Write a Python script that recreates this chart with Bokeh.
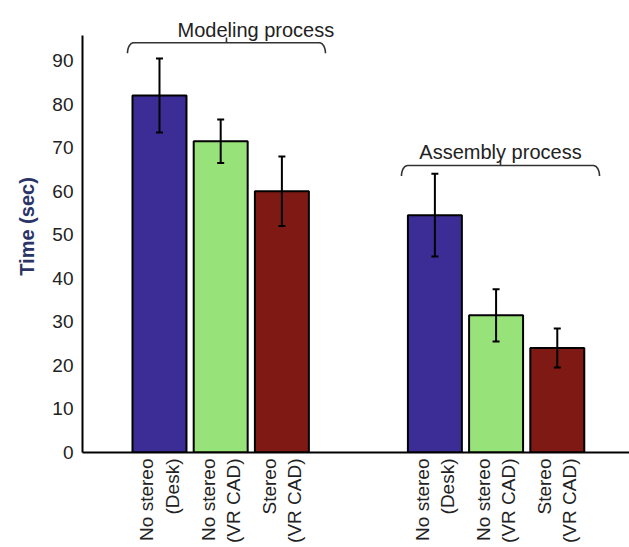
import numpy as np
from math import pi
from bokeh.plotting import figure
from bokeh.models import Range1d, FixedTicker, Whisker, ColumnDataSource, TeeHead
from bokeh.core.properties import value
from bokeh.embed import file_html
from bokeh.resources import INLINE

# Mean task time (sec) and error per condition, for the two processes
conditions = ["No stereo\n(Desk)", "No stereo\n(VR CAD)", "Stereo\n(VR CAD)"]
modeling_time = [82.0, 71.5, 60.0]
modeling_err = [8.5, 5.0, 8.0]
assembly_time = [54.5, 31.5, 24.0]
assembly_err = [9.5, 6.0, 4.5]
group_names = ["Modeling process", "Assembly process"]
bar_colors = ["#3b2d95", "#98e27a", "#7e1a13"]
y_ticks = [0, 10, 20, 30, 40, 50, 60, 70, 80, 90]

FONT = "Liberation Sans"

# bar positions: three bars per group, second group set further right
pos_modeling = [0.0, 1.0, 2.0]
pos_assembly = [4.5, 5.5, 6.5]
positions = pos_modeling + pos_assembly

times = modeling_time + assembly_time
errs = modeling_err + assembly_err
src = ColumnDataSource(dict(
    x=positions,
    top=times,
    upper=[t + e for t, e in zip(times, errs)],
    lower=[t - e for t, e in zip(times, errs)],
    color=bar_colors * 2,
))

p = figure(width=629, height=547, output_backend="svg", toolbar_location=None,
           x_range=Range1d(-1.258, 7.68), y_range=Range1d(0, 103.8),
           min_border_left=82, min_border_bottom=95, min_border_top=0,
           min_border_right=0)
p.outline_line_color = None
p.xgrid.grid_line_color = None
p.ygrid.grid_line_color = None

p.vbar(x="x", top="top", width=0.882, fill_color="color", line_color="black",
       line_width=2, source=src)

# error bars drawn over the bars
head_kw = dict(size=7, line_color="black", line_width=2)
p.add_layout(Whisker(source=src, base="x", upper="upper", lower="lower",
                     line_color="black", line_width=2, level="overlay",
                     upper_head=TeeHead(**head_kw), lower_head=TeeHead(**head_kw)))

# brackets over each group
def bracket(x0, x1, yb, drop=2.4, rx=0.1, tick=1.2):
    t = np.linspace(0, pi / 2, 10)
    left_x = x0 + rx - rx * np.cos(t)
    left_y = yb - drop + drop * np.sin(t)
    right_x = x1 - rx + rx * np.cos(t[::-1])
    right_y = yb - drop + drop * np.sin(t[::-1])
    xs = list(left_x) + list(right_x)
    ys = list(left_y) + list(right_y)
    xm = (x0 + x1) / 2
    return [xs, [xm, xm]], [ys, [yb, yb + tick]]

bx1, by1 = bracket(pos_modeling[0] - 0.523, pos_modeling[-1] + 0.712, 94.1)
bx2, by2 = bracket(pos_assembly[0] - 0.546, pos_assembly[-1] + 0.69, 65.9)
p.multi_line(xs=bx1 + bx2, ys=by1 + by2, line_color="#333333", line_width=1.6)

p.text(x=[pos_modeling[0] + 0.294], y=[97.0], text=[group_names[0]],
       text_font=value(FONT), text_font_size="20px", text_color="#222222",
       text_align="left", text_baseline="alphabetic")
p.text(x=[(pos_assembly[0] - 0.546 + pos_assembly[-1] + 0.69) / 2], y=[68.9],
       text=[group_names[1]], text_font=value(FONT), text_font_size="20px",
       text_color="#222222", text_align="center", text_baseline="alphabetic")

# y axis
p.yaxis.ticker = FixedTicker(ticks=y_ticks)
p.yaxis.bounds = (0, 95.7)
p.yaxis.axis_label = "Time (sec)"
p.yaxis.axis_label_text_font = FONT
p.yaxis.axis_label_text_font_style = "bold"
p.yaxis.axis_label_text_font_size = "20px"
p.yaxis.axis_label_text_color = "#2a3466"
p.yaxis.axis_label_standoff = 11
p.yaxis.major_label_standoff = 9

# x axis with condition names
p.xaxis.ticker = FixedTicker(ticks=positions)
p.xaxis.major_label_overrides = {float(x): lab for x, lab in zip(positions, conditions * 2)}
p.xaxis.major_label_orientation = pi / 2
p.xaxis.major_label_standoff = 6

for ax in (p.xaxis, p.yaxis):
    ax.axis_line_color = "black"
    ax.axis_line_width = 2
    ax.major_tick_line_color = None
    ax.minor_tick_line_color = None
    ax.major_tick_out = 0
    ax.major_tick_in = 0
    ax.minor_tick_out = 0
    ax.minor_tick_in = 0
    ax.major_label_text_font = FONT
    ax.major_label_text_color = "#222222"
p.yaxis.major_label_text_font_size = "19px"
p.xaxis.major_label_text_font_size = "19px"

open("out.html", "w").write(file_html(p, INLINE))
